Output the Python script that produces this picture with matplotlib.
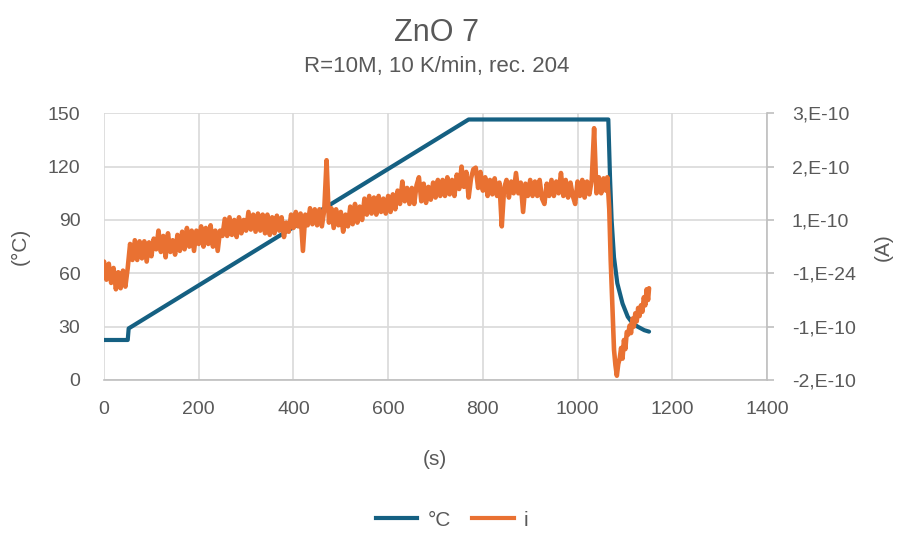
import numpy as np
import matplotlib
matplotlib.use("Agg")
import matplotlib.pyplot as plt
from matplotlib.lines import Line2D

plt.rcParams['font.family'] = ['Liberation Sans', 'DejaVu Sans']

# Temperature profile (s, °C)
temp_t = [0, 50, 52, 770, 1065, 1068.6, 1072, 1077, 1084, 1095, 1106, 1116, 1127, 1141, 1151]
temp_c = [22.5, 22.5, 29, 146.5, 146.5, 114, 90, 69, 54.4, 43, 35.6, 32, 30, 28, 27.2]

# Current, sampled every 5 s from 0 to 1060 s (units of 1e-10 A)
cur_step = 5
cur_main = [
    0.22, -0.12, 0.18, -0.18, 0.1, -0.3, 0.02, -0.28, 0.05, -0.25,
    0.1, 0.55, 0.25, 0.62, 0.25, 0.6, 0.28, 0.6, 0.22, 0.58,
    0.32, 0.65, 0.45, 0.8, 0.4, 0.7, 0.3, 0.75, 0.4, 0.62,
    0.35, 0.72, 0.42, 0.78, 0.45, 0.85, 0.5, 0.8, 0.42, 0.8,
    0.55, 0.88, 0.5, 0.85, 0.55, 0.9, 0.5, 0.8, 0.42, 0.8,
    0.7, 1.02, 0.7, 1.05, 0.72, 1.0, 0.68, 1.05, 0.75, 1.0,
    0.8, 1.15, 0.82, 1.1, 0.78, 1.12, 0.8, 1.1, 0.75, 1.1,
    0.72, 1.05, 0.75, 1.08, 0.8, 1.05, 0.68, 0.95, 0.78, 1.1,
    0.85, 1.15, 0.88, 1.12, 0.42, 1.1, 0.9, 1.22, 0.92, 1.2,
    0.9, 1.2, 0.88, 1.18, 2.12, 0.95, 1.22, 0.85, 1.2, 0.9,
    1.15, 0.78, 1.1, 0.88, 1.25, 0.92, 1.3, 0.95, 1.25, 1.0,
    1.4, 1.1, 1.45, 1.12, 1.42, 1.1, 1.45, 1.15, 1.4, 1.12,
    1.45, 1.15, 1.48, 1.2, 1.55, 1.3, 1.72, 1.35, 1.6, 1.3,
    1.6, 1.3, 1.65, 1.8, 1.35, 1.68, 1.32, 1.62, 1.38, 1.7,
    1.42, 1.75, 1.45, 1.75, 1.45, 1.8, 1.48, 1.75, 1.45, 1.85,
    1.58, 2.0, 1.62, 1.9, 1.42, 1.78, 1.95, 1.98, 1.6, 1.9,
    1.55, 1.8, 1.45, 1.75, 1.48, 1.78, 1.45, 1.7, 0.88, 1.6,
    1.75, 1.42, 1.72, 1.5, 1.88, 1.5, 1.7, 1.15, 1.68, 1.45,
    1.75, 1.45, 1.72, 1.45, 1.75, 1.4, 1.3, 1.68, 1.45, 1.75,
    1.45, 1.72, 1.5, 1.88, 1.45, 1.75, 1.42, 1.7, 1.45, 1.3,
    1.72, 1.45, 1.75, 1.42, 1.72, 1.48, 1.75, 2.72, 1.5, 1.8,
    1.5, 1.78, 1.55,
]
# Current during cool-down (s, units of 1e-10 A)
cur_tail_t = [1063, 1067, 1070, 1074, 1077, 1080, 1083, 1086, 1089, 1092, 1095, 1098,
              1101, 1104, 1107, 1110, 1113, 1116, 1119, 1122, 1125, 1128, 1131, 1134,
              1137, 1140, 1143, 1146, 1149, 1151]
cur_tail = [1.8, 1.2, 0.25, -0.7, -1.43, -1.72, -1.92, -1.7, -1.6, -1.4, -1.6, -1.25,
            -1.42, -1.1, -1.15, -0.98, -1.12, -0.85, -1.0, -0.75, -0.9, -0.65, -0.8, -0.6,
            -0.72, -0.45, -0.6, -0.3, -0.5, -0.28]

x_ticks = [0, 200, 400, 600, 800, 1000, 1200, 1400]
left_ticks = [0, 30, 60, 90, 120, 150]
right_ticks = [-2e-10, -1e-10, 0, 1e-10, 2e-10, 3e-10]
right_labels = ['-2,E-10', '-1,E-10', '-1,E-24', '1,E-10', '2,E-10', '3,E-10']

cur_t = list(np.arange(len(cur_main)) * cur_step) + cur_tail_t
cur_a = [v * 1e-10 for v in cur_main + cur_tail]

BLUE = '#156082'
ORANGE = '#E97132'
GRID = '#D9D9D9'
TXT = '#595959'
FS = 14

fig = plt.figure(figsize=(8.97, 5.34), dpi=100)
ax = fig.add_axes([0.116, 0.2884, 0.739, 0.4995])
ax2 = ax.twinx()

ax.set_xlim(0, 1400)
ax.set_ylim(0, 150)
ax2.set_ylim(-2e-10, 3e-10)

# Temperature axis underneath, current drawn on top
ax.set_zorder(ax2.get_zorder() - 1)
ax2.patch.set_visible(False)
ax.patch.set_facecolor('white')

ax.plot(temp_t, temp_c, color=BLUE, lw=3.0, solid_joinstyle='round',
        solid_capstyle='round', zorder=3)
ax2.plot(cur_t, cur_a, color=ORANGE, lw=3.3, solid_joinstyle='round',
         solid_capstyle='round', zorder=2)

ax.set_xticks(x_ticks)
ax.set_yticks(left_ticks)
ax2.set_yticks(right_ticks)
ax2.set_yticklabels(right_labels)

ax.grid(True, color=GRID, lw=1.2)
ax.set_axisbelow(True)

for a in (ax, ax2):
    for s in a.spines.values():
        s.set_visible(False)
ax.spines['bottom'].set_visible(True)
ax.spines['bottom'].set_color('#BFBFBF')
ax.spines['bottom'].set_linewidth(1.2)
ax2.spines['right'].set_visible(True)
ax2.spines['right'].set_color('#BFBFBF')
ax2.spines['right'].set_linewidth(1.2)

ax.tick_params(axis='x', length=0, labelsize=FS, colors=TXT, pad=15)
ax.tick_params(axis='y', length=0, labelsize=FS, colors=TXT, pad=17)
ax2.tick_params(axis='y', length=5, width=1.2, color='#BFBFBF', labelsize=FS,
                labelcolor=TXT, pad=13)

ax.set_xlabel('(s)', fontsize=15, color=TXT)
ax.set_ylabel('(°C)', fontsize=15, color=TXT)
ax2.set_ylabel('(A)', fontsize=15, color=TXT, rotation=90)
ax.xaxis.set_label_coords(0.499, -0.262)
ax.yaxis.set_label_coords(-0.112, 0.5)
ax2.yaxis.set_label_coords(1.161, 0.5)

fig.text(0.4865, 0.938, 'ZnO 7', ha='center', va='center', fontsize=22, color=TXT)
fig.text(0.4865, 0.875, 'R=10M, 10 K/min, rec. 204', ha='center', va='center',
         fontsize=16, color=TXT)

handles = [Line2D([], [], color=BLUE, lw=3.0), Line2D([], [], color=ORANGE, lw=3.0)]
fig.legend(handles, ['°C', 'i'], loc='center', bbox_to_anchor=(0.504, 0.026), ncol=2,
           frameon=False, fontsize=15, handlelength=2.0, handletextpad=0.5,
           columnspacing=1.0, labelcolor=TXT)

fig.savefig('out.png', dpi=100)
